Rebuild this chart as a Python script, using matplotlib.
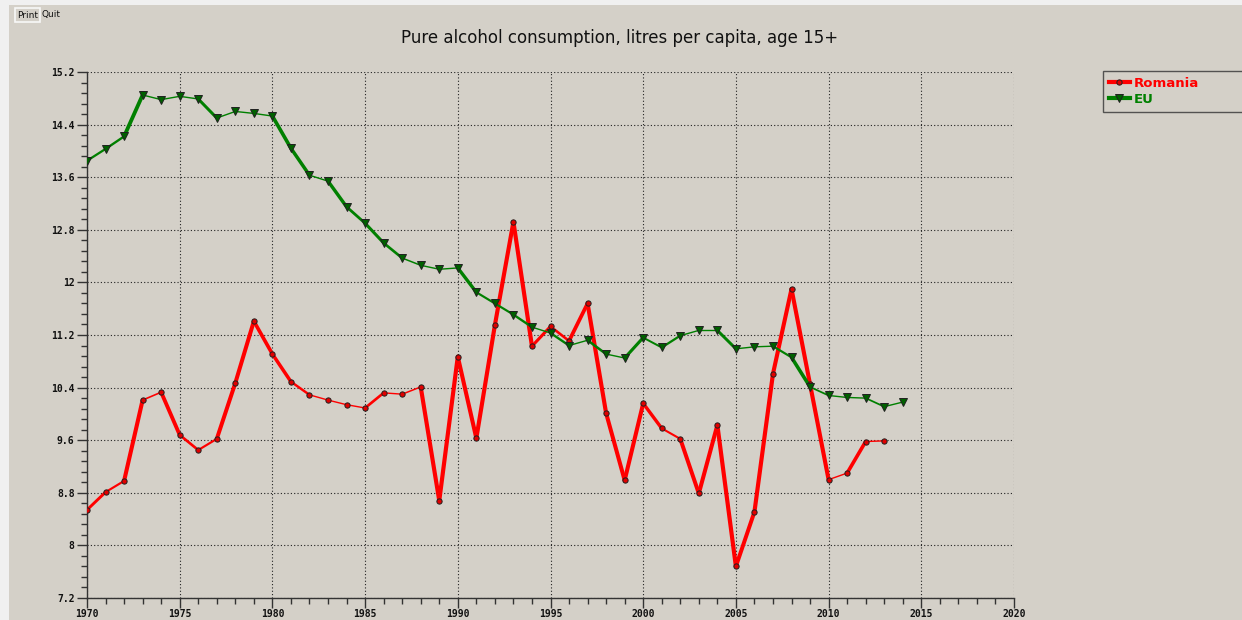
import numpy as np
import matplotlib
matplotlib.use("Agg")
import matplotlib.pyplot as plt
from matplotlib.collections import LineCollection
from matplotlib.lines import Line2D
from matplotlib.patches import Rectangle
from matplotlib.ticker import MultipleLocator, FuncFormatter

years_ro = list(range(1970, 2014))
romania = [8.54, 8.81, 8.98, 10.21, 10.33, 9.68, 9.45, 9.62, 10.47, 11.41,
           10.91, 10.49, 10.29, 10.21, 10.14, 10.09, 10.32, 10.30, 10.41, 8.68,
           10.87, 9.63, 11.35, 12.92, 11.03, 11.33, 11.11, 11.68, 10.01, 8.99,
           10.16, 9.78, 9.62, 8.79, 9.83, 7.68, 8.51, 10.61, 11.90, 10.45,
           9.00, 9.10, 9.58, 9.59]

years_eu = list(range(1970, 2015))
eu = [13.85, 14.03, 14.22, 14.85, 14.78, 14.83, 14.79, 14.50, 14.60, 14.57,
      14.53, 14.04, 13.63, 13.54, 13.15, 12.90, 12.60, 12.37, 12.26, 12.20,
      12.22, 11.85, 11.68, 11.51, 11.32, 11.23, 11.04, 11.12, 10.91, 10.85,
      11.16, 11.01, 11.19, 11.27, 11.27, 10.99, 11.02, 11.03, 10.86, 10.41,
      10.28, 10.25, 10.24, 10.11, 10.18]

series = [("Romania", years_ro, romania, "#ff0000", "#e00000", "o", 3.8),
          ("EU", years_eu, eu, "#008000", "#006000", "v", 5.2)]

W, H = 1242, 620
bg = "#d4d0c8"
fig = plt.figure(figsize=(W / 100, H / 100), dpi=100)
fig.patch.set_facecolor("#f0f0f0")
fig.patches.append(Rectangle((9 / W, 0), 1, 1 - 5 / H, transform=fig.transFigure,
                             facecolor=bg, edgecolor="none", zorder=-5))

ax = fig.add_axes([87 / W, 1 - 598 / H, (1014 - 87) / W, (598 - 72) / H])
ax.set_facecolor(bg)
ax.set_xlim(1970, 2020)
ax.set_ylim(7.2, 15.2)

ax.xaxis.set_major_locator(MultipleLocator(5))
ax.xaxis.set_minor_locator(MultipleLocator(1))
ax.yaxis.set_major_locator(MultipleLocator(0.8))
ax.yaxis.set_minor_locator(MultipleLocator(0.16))
ax.yaxis.set_major_formatter(FuncFormatter(lambda v, p: "%g" % round(v, 2)))
ax.xaxis.set_major_formatter(FuncFormatter(lambda v, p: "%d" % round(v)))

ax.grid(True, which="major", color="#222222", linestyle=(0, (1, 2)), linewidth=0.8)
for s in ("top", "right"):
    ax.spines[s].set_visible(False)
for s in ("left", "bottom"):
    ax.spines[s].set_color("#333333")
    ax.spines[s].set_linewidth(1.0)
ax.tick_params(which="major", length=7, width=1, color="#333333")
ax.tick_params(which="minor", length=4, width=1, color="#333333")
ax.tick_params(axis="x", which="major", labelsize=7, pad=1)
ax.tick_params(axis="y", which="major", labelsize=7, pad=2)
for lab in ax.get_xticklabels() + ax.get_yticklabels():
    lab.set_fontfamily("DejaVu Sans Mono")
    lab.set_fontweight("bold")
    lab.set_color("#111111")

# segment widths look like a horizontal pen: steep segments thick, flat ones thin
fig.canvas.draw()
handles = []
for name, xs, ys, col, mfc, mk, ms in series:
    pts = np.column_stack([xs, ys])
    disp = ax.transData.transform(pts)
    segs = np.stack([pts[:-1], pts[1:]], axis=1)
    d = np.diff(disp, axis=0)
    sin = np.abs(d[:, 1]) / np.hypot(d[:, 0], d[:, 1])
    widths = np.maximum(1.4, 4.2 * sin) * 0.72
    ax.add_collection(LineCollection(segs, colors=col, linewidths=widths,
                                     capstyle="round", joinstyle="round", zorder=3))
    ax.plot(xs, ys, linestyle="none", marker=mk, markersize=ms,
            markerfacecolor=mfc, markeredgecolor="#202020", markeredgewidth=0.7,
            zorder=4)
    handles.append(Line2D([], [], color=col, linewidth=3, marker=mk, markersize=ms,
                          markerfacecolor=mfc, markeredgecolor="#202020",
                          markeredgewidth=0.7, label=name))

leg = fig.legend(handles=handles, loc="upper left",
                 bbox_to_anchor=(1103 / W, 1 - 71 / H, 0.2, 0), mode="expand",
                 borderaxespad=0, frameon=True, fancybox=False, handlelength=1.6,
                 handletextpad=0.3, borderpad=0.45, labelspacing=0.2,
                 prop={"weight": "bold", "size": 9.5})
leg.get_frame().set_edgecolor("#333333")
leg.get_frame().set_facecolor(bg)
leg.get_frame().set_linewidth(1.0)
for t, (name, xs, ys, col, *_rest) in zip(leg.get_texts(), series):
    t.set_color(col)

fig.text(620 / W, 1 - 38 / H, "Pure alcohol consumption, litres per capita, age 15+",
         ha="center", va="center", fontsize=12, color="#111111")

fig.text(17 / W, 1 - 15 / H, "Print", ha="left", va="center", fontsize=6.5,
         color="#111111",
         bbox=dict(boxstyle="square,pad=0.25", facecolor=bg, edgecolor="#f8f8f8",
                   linewidth=1.2))
fig.text(42 / W, 1 - 15 / H, "Quit", ha="left", va="center", fontsize=6.5,
         color="#111111")

fig.savefig("out.png", dpi=100, facecolor=fig.get_facecolor())
